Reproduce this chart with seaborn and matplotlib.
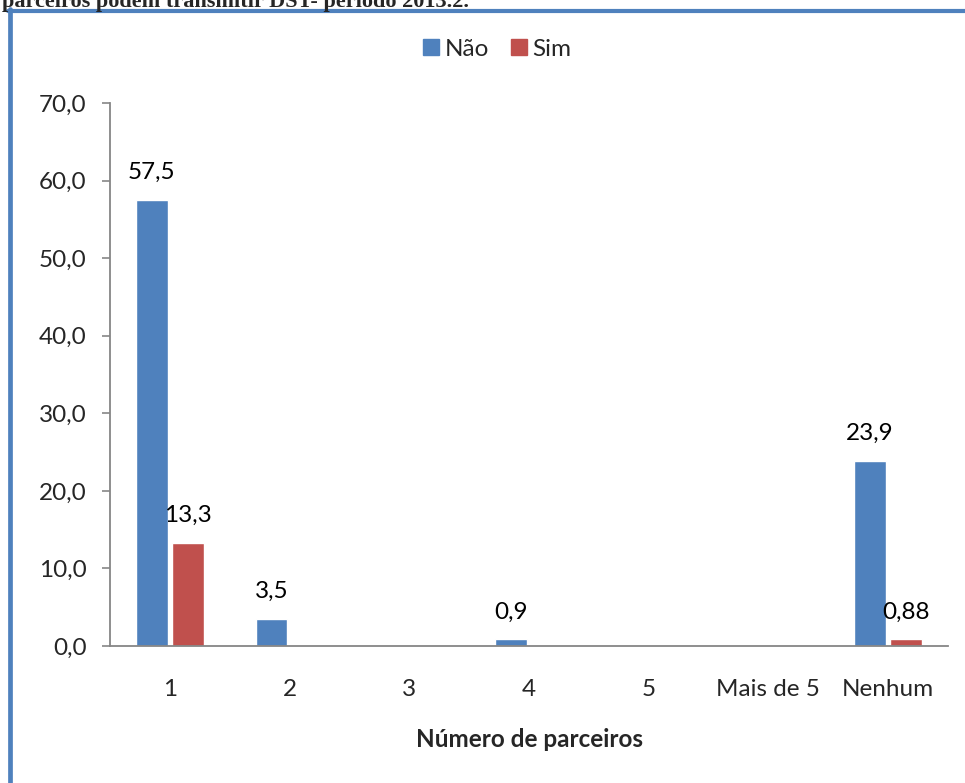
import matplotlib
matplotlib.use("Agg")
import matplotlib.pyplot as plt
import seaborn as sns
import pandas as pd
from matplotlib.lines import Line2D

categorias = ["1", "2", "3", "4", "5", "Mais de 5", "Nenhum"]
nao = [57.5, 3.5, 0.0, 0.9, 0.0, 0.0, 23.9]
sim = [13.3, 0.0, 0.0, 0.0, 0.0, 0.0, 0.88]
rotulos_nao = ["57,5", "3,5", "", "0,9", "", "", "23,9"]
rotulos_sim = ["13,3", "", "", "", "", "", "0,88"]
y_ticks = [0, 10, 20, 30, 40, 50, 60, 70]
y_tick_labels = ["0,0", "10,0", "20,0", "30,0", "40,0", "50,0", "60,0", "70,0"]

df = pd.DataFrame({
    "categoria": categorias * 2,
    "valor": nao + sim,
    "grupo": ["Não"] * len(categorias) + ["Sim"] * len(categorias),
})

sns.set_theme(style="white")
plt.rcParams["font.family"] = ["Lato", "DejaVu Sans"]
FS = 17.5

fig = plt.figure(figsize=(9.65, 7.83), dpi=100)
ax = fig.add_axes([110 / 965, 1 - 646 / 783, (948 - 110) / 965, (646 - 103) / 783])

azul, vermelho = "#4F81BD", "#C0504D"
sns.barplot(data=df, x="categoria", y="valor", hue="grupo", order=categorias,
            hue_order=["Não", "Sim"], palette=[azul, vermelho], width=0.6,
            gap=0.12, ax=ax, legend=False, errorbar=None, saturation=1)

for cont, rot in zip(ax.containers, [rotulos_nao, rotulos_sim]):
    ax.bar_label(cont, labels=rot, padding=12, fontsize=FS, color="#000000")

ax.set_ylim(0, 70)
ax.set_xlim(-0.5, len(categorias) - 0.5)
ax.set_yticks(y_ticks)
ax.set_yticklabels(y_tick_labels, fontsize=FS)
ax.tick_params(axis="x", length=0, pad=24, labelsize=FS)
ax.tick_params(axis="y", length=6, width=1.2, color="#868686", left=True, pad=11)
ax.set_xlabel("Número de parceiros", fontsize=FS, fontweight="bold", labelpad=20)
ax.set_ylabel("")
for s in ["top", "right"]:
    ax.spines[s].set_visible(False)
for s in ["left", "bottom"]:
    ax.spines[s].set_color("#868686")
    ax.spines[s].set_linewidth(1.3)

handles = [Line2D([], [], marker="s", linestyle="", markersize=12, color=c) for c in (azul, vermelho)]
fig.legend(handles, ["Não", "Sim"], loc="center", bbox_to_anchor=(496 / 965, 1 - 49 / 783),
           ncol=2, frameon=False, fontsize=FS, handletextpad=0.1, columnspacing=0.8,
           handlelength=0.9)

# outer chart frame (left and top edges)
fig.add_artist(Line2D([9.7 / 965, 9.7 / 965], [0, 1 - 9 / 783], transform=fig.transFigure,
                      color=azul, linewidth=3.4))
fig.add_artist(Line2D([7.5 / 965, 1], [1 - 11.2 / 783, 1 - 11.2 / 783], transform=fig.transFigure,
                      color=azul, linewidth=3.0))

fig.text(2 / 965, 1 - 7 / 783, "parceiros podem transmitir DST- período 2013.2.",
         family=["Liberation Serif", "DejaVu Serif"], fontweight="bold", fontsize=16,
         ha="left", va="baseline")

fig.savefig("out.png", dpi=100)
